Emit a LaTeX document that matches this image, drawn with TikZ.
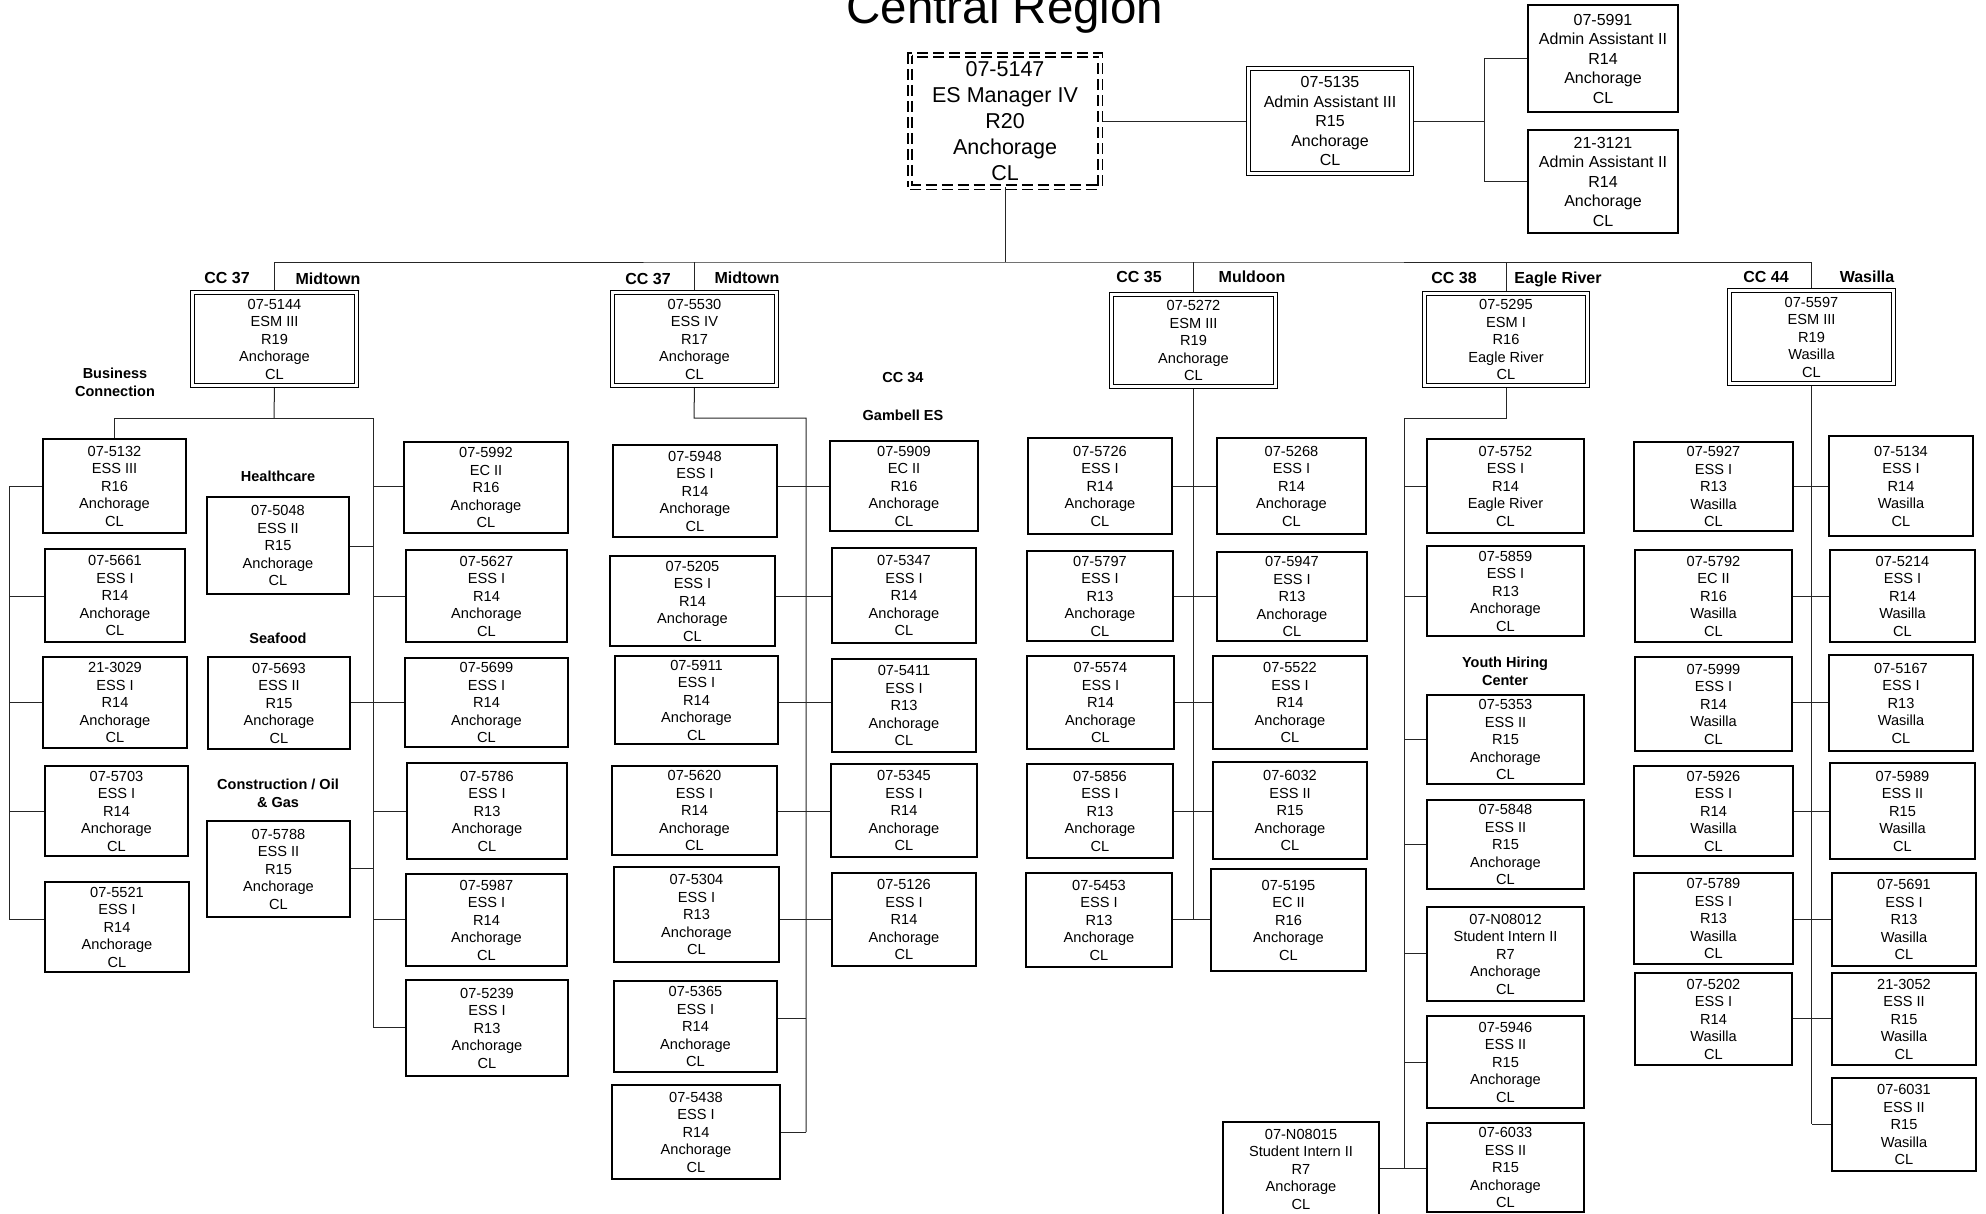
\documentclass[tikz,border=0pt]{standalone}
\usepackage{fontspec}
\setmainfont{Liberation Sans}
\usetikzlibrary{backgrounds}
\tikzset{
 box/.style={draw, line width=1.8pt, inner sep=0pt, outer sep=0pt, align=center, font=\fontsize{14.6}{17.5}\selectfont},
 afont/.style={font=\fontsize{16}{19.5}\selectfont},
 dbox/.style={box, line width=1.4pt, double, double distance=2.6pt},
 mbox/.style={box, line width=1.9pt, double, double distance=2.4pt, dash pattern=on 11pt off 5pt, font=\fontsize{21.5}{26}\selectfont},
 cclab/.style={font=\bfseries\fontsize{16}{19}\selectfont, inner sep=0pt, anchor=base},
 seclab/.style={font=\bfseries\fontsize{14.5}{18}\selectfont, align=center, inner sep=0pt},
 link/.style={line width=1pt, draw=black!85},
}
\newcommand\bx[7][box]{\node[#1,minimum width={#5-#3},minimum height={#6-#4}] (#2) at ({(#3+#5)/2},{(#4+#6)/2}) {#7};}
\newcommand\dbx[7][dbox]{\node[#1,minimum width={#5-#3-5.4},minimum height={#6-#4-5.4}] (#2) at ({(#3+#5)/2},{(#4+#6)/2}) {#7};}
\newcommand\hl[3]{\draw[link] (#1 |- 0,#3) -- (#2 |- 0,#3);}
\begin{document}
\begin{tikzpicture}[x=1pt,y=-1pt]
\useasboundingbox (0,0) rectangle (1986,1213);
\clip (0,0) rectangle (1986,1213);
% title
\node[anchor=base, font=\fontsize{47.5}{57}\selectfont, inner sep=0pt] (title) at (1005,23) {Central Region};
% top
\dbx[mbox]{mgr}{907}{52}{1103}{190}{07-5147\\ES Manager IV\\R20\\Anchorage\\CL}
\dbx[dbox,afont]{aa3}{1246}{66}{1414}{176}{07-5135\\Admin Assistant III\\R15\\Anchorage\\CL}
\bx[box,afont]{aa2a}{1528}{5}{1678}{112}{07-5991\\Admin Assistant II\\R14\\Anchorage\\CL}
\bx[box,afont]{aa2b}{1528}{130}{1678}{233}{21-3121\\Admin Assistant II\\R14\\Anchorage\\CL}
% CC level
\dbx{cc1}{190}{290}{359}{388}{07-5144\\ESM III\\R19\\Anchorage\\CL}
\dbx{cc2}{610}{290}{779}{388}{07-5530\\ESS IV\\R17\\Anchorage\\CL}
\dbx{cc3}{1109}{292}{1278}{389}{07-5272\\ESM III\\R19\\Anchorage\\CL}
\dbx{cc4}{1422}{291}{1590}{388}{07-5295\\ESM I\\R16\\Eagle River\\CL}
\dbx{cc5}{1727}{288}{1896}{386}{07-5597\\ESM III\\R19\\Wasilla\\CL}
\node[cclab] (l1a) at (227,283) {CC 37};
\node[cclab] (l1b) at (328,284) {Midtown};
\node[cclab] (l2a) at (648,284) {CC 37};
\node[cclab] (l2b) at (747,283) {Midtown};
\node[cclab] (l3a) at (1139,282) {CC 35};
\node[cclab] (l3b) at (1252,282) {Muldoon};
\node[cclab] (l4a) at (1454,283) {CC 38};
\node[cclab] (l4b) at (1558,283) {Eagle River};
\node[cclab] (l5a) at (1766,282) {CC 44};
\node[cclab] (l5b) at (1867,282) {Wasilla};
% section labels
\node[seclab] (sbus) at (115,382) {Business\\Connection};
\node[seclab, anchor=base] (scc34) at (903,382) {CC 34};
\node[seclab, anchor=base] (sgam) at (903,420) {Gambell ES};
\node[seclab, anchor=base] (shealth) at (278,481) {Healthcare};
\node[seclab, anchor=base] (ssea) at (278,643) {Seafood};
\node[seclab] (scon) at (278,793) {Construction / Oil\\\& Gas};
\node[seclab] (syouth) at (1505,671) {Youth Hiring\\Center};
% subtree 1
\bx{b5132}{43}{439}{186}{533}{07-5132\\ESS III\\R16\\Anchorage\\CL}
\bx{b5661}{45}{549}{185}{642}{07-5661\\ESS I\\R14\\Anchorage\\CL}
\bx{b3029}{43}{657}{187}{748}{21-3029\\ESS I\\R14\\Anchorage\\CL}
\bx{b5703}{45}{766}{188}{856}{07-5703\\ESS I\\R14\\Anchorage\\CL}
\bx{b5521}{45}{882}{189}{972}{07-5521\\ESS I\\R14\\Anchorage\\CL}
\bx{b5048}{207}{497}{349}{594}{07-5048\\ESS II\\R15\\Anchorage\\CL}
\bx{b5693}{208}{657}{350}{749}{07-5693\\ESS II\\R15\\Anchorage\\CL}
\bx{b5788}{207}{821}{350}{917}{07-5788\\ESS II\\R15\\Anchorage\\CL}
\bx{b5992}{404}{442}{568}{533}{07-5992\\EC II\\R16\\Anchorage\\CL}
\bx{b5627}{406}{550}{567}{642}{07-5627\\ESS I\\R14\\Anchorage\\CL}
\bx{b5699}{405}{658}{568}{747}{07-5699\\ESS I\\R14\\Anchorage\\CL}
\bx{b5786}{407}{763}{567}{859}{07-5786\\ESS I\\R13\\Anchorage\\CL}
\bx{b5987}{406}{874}{567}{966}{07-5987\\ESS I\\R14\\Anchorage\\CL}
\bx{b5239}{406}{980}{568}{1076}{07-5239\\ESS I\\R13\\Anchorage\\CL}
% subtree 2
\bx{b5948}{613}{445}{777}{537}{07-5948\\ESS I\\R14\\Anchorage\\CL}
\bx{b5205}{610}{556}{775}{646}{07-5205\\ESS I\\R14\\Anchorage\\CL}
\bx{b5911}{615}{656}{778}{744}{07-5911\\ESS I\\R14\\Anchorage\\CL}
\bx{b5620}{612}{766}{777}{855}{07-5620\\ESS I\\R14\\Anchorage\\CL}
\bx{b5304}{614}{867}{779}{962}{07-5304\\ESS I\\R13\\Anchorage\\CL}
\bx{b5365}{614}{981}{777}{1072}{07-5365\\ESS I\\R14\\Anchorage\\CL}
\bx{b5438}{612}{1085}{780}{1179}{07-5438\\ESS I\\R14\\Anchorage\\CL}
\bx{b5909}{830}{441}{978}{531}{07-5909\\EC II\\R16\\Anchorage\\CL}
\bx{b5347}{832}{548}{976}{643}{07-5347\\ESS I\\R14\\Anchorage\\CL}
\bx{b5411}{832}{659}{976}{752}{07-5411\\ESS I\\R13\\Anchorage\\CL}
\bx{b5345}{831}{764}{977}{857}{07-5345\\ESS I\\R14\\Anchorage\\CL}
\bx{b5126}{832}{873}{976}{966}{07-5126\\ESS I\\R14\\Anchorage\\CL}
% subtree 3
\bx{b5726}{1028}{438}{1172}{534}{07-5726\\ESS I\\R14\\Anchorage\\CL}
\bx{b5797}{1027}{551}{1173}{641}{07-5797\\ESS I\\R13\\Anchorage\\CL}
\bx{b5574}{1027}{656}{1174}{749}{07-5574\\ESS I\\R14\\Anchorage\\CL}
\bx{b5856}{1027}{764}{1173}{858}{07-5856\\ESS I\\R13\\Anchorage\\CL}
\bx{b5453}{1026}{873}{1172}{967}{07-5453\\ESS I\\R13\\Anchorage\\CL}
\bx{b5268}{1217}{438}{1366}{534}{07-5268\\ESS I\\R14\\Anchorage\\CL}
\bx{b5947}{1217}{552}{1367}{641}{07-5947\\ESS I\\R13\\Anchorage\\CL}
\bx{b5522}{1213}{656}{1367}{749}{07-5522\\ESS I\\R14\\Anchorage\\CL}
\bx{b6032}{1213}{762}{1367}{859}{07-6032\\ESS II\\R15\\Anchorage\\CL}
\bx{b5195}{1211}{869}{1366}{971}{07-5195\\EC II\\R16\\Anchorage\\CL}
% subtree 4
\bx{b5752}{1427}{439}{1584}{533}{07-5752\\ESS I\\R14\\Eagle River\\CL}
\bx{b5859}{1427}{546}{1584}{636}{07-5859\\ESS I\\R13\\Anchorage\\CL}
\bx{b5353}{1427}{695}{1584}{784}{07-5353\\ESS II\\R15\\Anchorage\\CL}
\bx{b5848}{1427}{800}{1584}{889}{07-5848\\ESS II\\R15\\Anchorage\\CL}
\bx{bN08012}{1427}{907}{1584}{1001}{07-N08012\\Student Intern II\\R7\\Anchorage\\CL}
\bx{b5946}{1427}{1016}{1584}{1108}{07-5946\\ESS II\\R15\\Anchorage\\CL}
\bx{b6033}{1427}{1123}{1584}{1212}{07-6033\\ESS II\\R15\\Anchorage\\CL}
\bx{bN08015}{1223}{1122}{1379}{1216}{07-N08015\\Student Intern II\\R7\\Anchorage\\CL}
% subtree 5
\bx{b5927}{1634}{442}{1793}{531}{07-5927\\ESS I\\R13\\Wasilla\\CL}
\bx{b5792}{1635}{550}{1792}{642}{07-5792\\EC II\\R16\\Wasilla\\CL}
\bx{b5999}{1635}{657}{1792}{751}{07-5999\\ESS I\\R14\\Wasilla\\CL}
\bx{b5926}{1634}{766}{1793}{856}{07-5926\\ESS I\\R14\\Wasilla\\CL}
\bx{b5789}{1634}{873}{1793}{964}{07-5789\\ESS I\\R13\\Wasilla\\CL}
\bx{b5202}{1635}{973}{1792}{1065}{07-5202\\ESS I\\R14\\Wasilla\\CL}
\bx{b5134}{1829}{436}{1973}{536}{07-5134\\ESS I\\R14\\Wasilla\\CL}
\bx{b5214}{1830}{550}{1975}{642}{07-5214\\ESS I\\R14\\Wasilla\\CL}
\bx{b5167}{1829}{655}{1973}{751}{07-5167\\ESS I\\R13\\Wasilla\\CL}
\bx{b5989}{1830}{763}{1975}{859}{07-5989\\ESS II\\R15\\Wasilla\\CL}
\bx{b5691}{1832}{873}{1976}{966}{07-5691\\ESS I\\R13\\Wasilla\\CL}
\bx{b3052}{1832}{973}{1976}{1065}{21-3052\\ESS II\\R15\\Wasilla\\CL}
\bx{b6031}{1832}{1078}{1976}{1171}{07-6031\\ESS II\\R15\\Wasilla\\CL}
% coordinates
\coordinate (hbus) at (1005,262);
\coordinate (abus) at (1484,121);
\coordinate (s1a) at (274,418);
\coordinate (s1c) at (373,418);
\coordinate (s1d) at (373,1027);
\coordinate (s1e) at (9,486);
\coordinate (s1f) at (9,919);
\coordinate (s2a) at (694,418);
\coordinate (s2b) at (806,418);
\coordinate (s2c) at (806,1132);
\coordinate (s3a) at (1194,919);
\coordinate (s4a) at (1506,418);
\coordinate (s4b) at (1404,418);
\coordinate (s4c) at (1404,1168);
\coordinate (s5a) at (1812,1124);
\begin{pgfonlayer}{background}
% top
\draw[link] (mgr.south) -- (hbus);
\draw[link] (cc1.north) |- (hbus) -| (cc5.north);
\draw[link] (cc2.north) -- (cc2.north |- hbus);
\draw[link] (cc3.north) -- (cc3.north |- hbus);
\draw[link] (cc4.north) -- (cc4.north |- hbus);
\draw[link] (mgr.east) -- (aa3.west);
\draw[link] (aa3.east) -- (abus);
\draw[link] (aa2a.west) -| (abus);
\draw[link] (aa2b.west) -| (abus);
% subtree 1
\draw[link] (cc1.south) -- (s1a);
\draw[link] (b5132.north) |- (s1c) -- (s1d);
\draw[link] (s1e) -- (s1f);
\hl{b5132.west}{s1e}{486}
\hl{b5661.west}{s1e}{596}
\hl{b3029.west}{s1e}{702}
\hl{b5703.west}{s1e}{811}
\hl{b5521.west}{s1e}{919}
\hl{b5048.east}{s1c}{546}
\hl{b5693.east}{s1c}{702}
\hl{b5788.east}{s1c}{868}
\hl{s1c}{b5992.west}{486}
\hl{s1c}{b5627.west}{596}
\hl{s1c}{b5699.west}{702}
\hl{s1c}{b5786.west}{811}
\hl{s1c}{b5987.west}{919}
\hl{s1c}{b5239.west}{1027}
% subtree 2
\draw[link] (cc2.south) -- (s2a) -- (s2b) -- (s2c);
\hl{b5948.east}{b5909.west}{486}
\hl{b5205.east}{b5347.west}{596}
\hl{b5911.east}{b5411.west}{702}
\hl{b5620.east}{b5345.west}{811}
\hl{b5304.east}{b5126.west}{919}
\hl{b5365.east}{s2b}{1018}
\hl{b5438.east}{s2b}{1132}
% subtree 3
\draw[link] (cc3.south) -- (cc3.south |- s3a);
\hl{b5726.east}{b5268.west}{486}
\hl{b5797.east}{b5947.west}{596}
\hl{b5574.east}{b5522.west}{702}
\hl{b5856.east}{b6032.west}{811}
\hl{b5453.east}{b5195.west}{919}
% subtree 4
\draw[link] (cc4.south) -- (s4a) -- (s4b) -- (s4c);
\hl{s4b}{b5752.west}{486}
\hl{s4b}{b5859.west}{596}
\hl{s4b}{b5353.west}{739}
\hl{s4b}{b5848.west}{844}
\hl{s4b}{bN08012.west}{953}
\hl{s4b}{b5946.west}{1062}
\hl{bN08015.east}{b6033.west}{1168}
% subtree 5
\draw[link] (cc5.south) -- (cc5.south |- s5a);
\hl{b5927.east}{b5134.west}{486}
\hl{b5792.east}{b5214.west}{596}
\hl{b5999.east}{b5167.west}{702}
\hl{b5926.east}{b5989.west}{811}
\hl{b5789.east}{b5691.west}{919}
\hl{b5202.east}{b3052.west}{1018}
\hl{s5a}{b6031.west}{1124}
\end{pgfonlayer}
\end{tikzpicture}
\end{document}
